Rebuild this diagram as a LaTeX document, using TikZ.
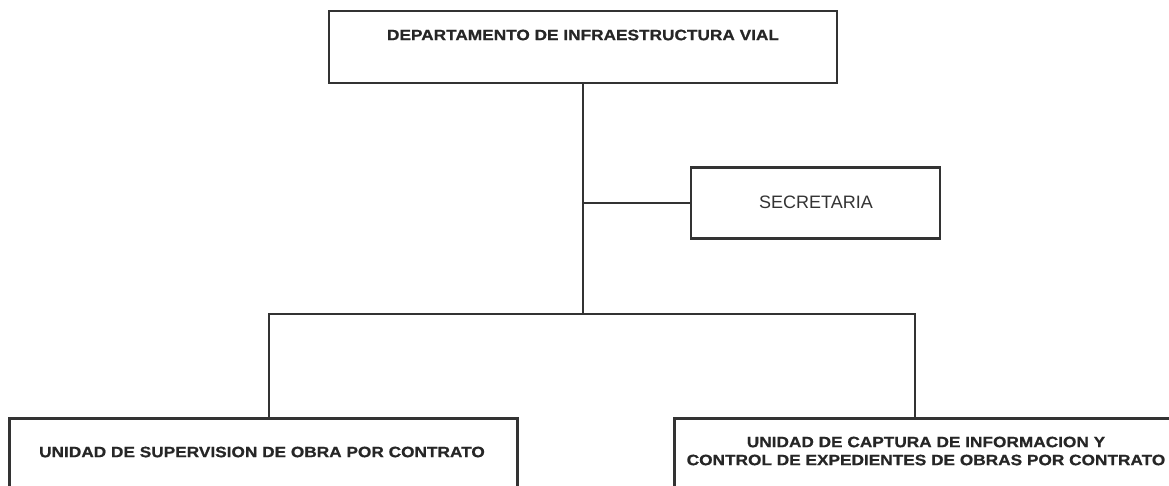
\documentclass[tikz,border=0pt]{standalone}
\usepackage{fontspec}
\setmainfont{Liberation Sans}
\newfontfamily\anchaBold[FakeStretch=1.15, FakeBold=0.8]{Liberation Sans Bold}
\usetikzlibrary{positioning}
\tikzset{unidad/.style = {draw=black!80, line width=2.5pt, inner sep=0,
                          minimum width=508pt, minimum height=72pt}}
\tikzset{titulo/.style = {font=\anchaBold\fontsize{15}{18}\selectfont,
                          text=black!85, inner sep=0, align=center}}
\tikzset{linea/.style = {draw=black!80, line width=2.5pt}}

\begin{document}
\begin{tikzpicture}[x=1pt, y=-1pt]
    \useasboundingbox (0,0) rectangle (1169,485);
    \clip (0,0) rectangle (1169,485);

    % Draw boxes
    \node [unidad] (dep) at (583,47) {};
    \node [unidad, minimum width=249pt, minimum height=71pt] (sec) at (815.5,203) {};
    \node [unidad, minimum height=100pt, anchor=north west] (sup) at (8,417) {};
    \node [unidad, minimum width=560pt, minimum height=100pt, anchor=north west] (cap) at (673,417) {};

    % Texts
    \node [titulo] (depT) at (583,35) {DEPARTAMENTO DE INFRAESTRUCTURA VIAL};
    \node [font=\fontsize{18}{20}\selectfont, text=black!80, inner sep=0] (secT) at (816,202) {SECRETARIA};
    \node [titulo] (supT) at (262,452) {UNIDAD DE SUPERVISION DE OBRA POR CONTRATO};
    \node [titulo] (capT) at (926,451)
        {UNIDAD DE CAPTURA DE INFORMACION Y\\CONTROL DE EXPEDIENTES DE OBRAS POR CONTRATO};

    % Draw connectors
    \coordinate (bus) at (583,314);
    \coordinate (busL) at (269,314);
    \coordinate (busR) at (915,314);
    \draw [linea] (dep.south) -- (bus);
    \draw [linea] (dep.south |- sec.west) -- (sec.west);
    \draw [linea] (busL |- sup.north) -- (busL) -- (busR) -- (busR |- cap.north);
\end{tikzpicture}
\end{document}
